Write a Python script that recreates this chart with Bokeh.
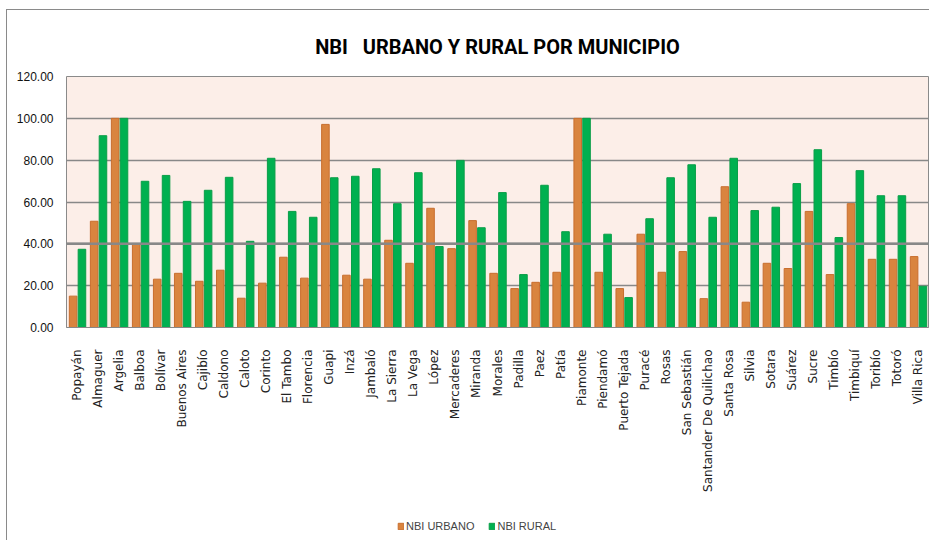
import math
from bokeh.plotting import figure
from bokeh.layouts import column
from bokeh.models import (ColumnDataSource, FactorRange, Range1d, Legend, LegendItem, Span,
                          NumeralTickFormatter, FixedTicker, Title)
from bokeh.transform import dodge
from bokeh.embed import file_html
from bokeh.resources import INLINE

municipios = ["Popayán", "Almaguer", "Argelia", "Balboa", "Bolívar", "Buenos Aires", "Cajibío",
              "Caldono", "Caloto", "Corinto", "El Tambo", "Florencia", "Guapi", "Inzá", "Jambaló",
              "La Sierra", "La Vega", "López", "Mercaderes", "Miranda", "Morales", "Padilla", "Paez",
              "Patía", "Piamonte", "Piendamó", "Puerto Tejada", "Puracé", "Rosas", "San Sebastián",
              "Santander De Quilichao", "Santa Rosa", "Silvia", "Sotara", "Suárez", "Sucre", "Timbío",
              "Timbiquí", "Toribío", "Totoró", "Villa Rica"]

nbi_urbano = [15.0, 50.8, 100.0, 40.1, 23.1, 25.9, 22.1, 27.4, 14.0, 21.2, 33.6, 23.6, 97.1, 25.0,
              23.1, 41.7, 30.7, 57.0, 37.7, 51.1, 25.9, 18.6, 21.6, 26.4, 100.0, 26.4, 18.6, 44.6,
              26.4, 36.3, 13.8, 67.3, 12.1, 30.7, 28.2, 55.5, 25.3, 59.2, 32.6, 32.6, 33.9]

nbi_rural = [37.4, 91.7, 100.0, 69.9, 72.7, 60.3, 65.6, 71.8, 41.2, 80.9, 55.5, 52.7, 71.6, 72.3,
             75.9, 59.2, 74.0, 38.7, 79.9, 47.7, 64.5, 25.3, 68.0, 45.8, 100.0, 44.6, 14.3, 52.0,
             71.6, 77.8, 52.7, 80.9, 55.9, 57.5, 68.8, 85.0, 43.0, 75.0, 63.0, 63.0, 19.7]

y_ticks = [0, 20, 40, 60, 80, 100, 120]

URB_FILL, URB_LINE = "#D9843F", "#C86E2E"
RUR_FILL, RUR_LINE = "#00B050", "#0A9E48"

src = ColumnDataSource(dict(m=municipios, u=nbi_urbano, r=nbi_rural))

# ---------------- main chart ----------------
p = figure(x_range=FactorRange(*municipios, range_padding=0), y_range=(0, 120),
           width=922, height=500, output_backend="svg", toolbar_location=None,
           min_border_left=59, min_border_right=1, min_border_top=66, min_border_bottom=183)

title = Title(text="NBI\u00a0\u00a0\u00a0URBANO Y RURAL POR MUNICIPIO", align="center",
              text_font="Roboto", text_font_size="20px", text_font_style="bold",
              text_color="#000000")
try:
    title.standoff = 36
except Exception:
    pass
p.add_layout(title, "above")

p.background_fill_color = "#FCEEE8"
p.border_fill_color = "white"
p.outline_line_color = "#8a8a8a"
p.outline_line_width = 1

p.vbar(x=dodge("m", -0.185, range=p.x_range), top="u", width=0.36, source=src,
       fill_color=URB_FILL, line_color=URB_LINE, line_width=1)
p.vbar(x=dodge("m", 0.235, range=p.x_range), top="r", width=0.36, source=src,
       fill_color=RUR_FILL, line_color=RUR_LINE, line_width=1)

p.add_layout(Span(location=40, dimension="width", line_color="#888888", line_width=2.5))

p.ygrid.grid_line_color = "#888888"
p.ygrid.grid_line_width = 1.5
p.xgrid.grid_line_color = None

p.yaxis.ticker = FixedTicker(ticks=y_ticks)
p.yaxis.formatter = NumeralTickFormatter(format="0.00")
p.yaxis.axis_line_color = None
p.yaxis.major_tick_line_color = None
p.yaxis.minor_tick_line_color = None
p.yaxis.major_label_text_font = "Liberation Sans"
p.yaxis.major_label_text_font_size = "12px"
p.yaxis.major_label_text_color = "#111111"
p.yaxis.major_label_standoff = 7

p.xaxis.axis_line_color = "#888888"
p.xaxis.major_tick_line_color = None
p.xaxis.minor_tick_line_color = None
p.xaxis.major_label_orientation = math.pi / 2
p.xaxis.major_label_text_font = "DejaVu Sans"
p.xaxis.major_label_text_font_size = "12px"
p.xaxis.major_label_text_color = "#222222"
p.xaxis.major_label_standoff = 16

# ---------------- legend strip ----------------
lf = figure(x_range=FactorRange(*municipios, range_padding=0), y_range=Range1d(500, 600),
            width=922, height=30, output_backend="svg", toolbar_location=None,
            min_border=0, min_border_left=0, min_border_right=0, min_border_top=0, min_border_bottom=0)
lf.axis.visible = False
lf.grid.visible = False
lf.outline_line_color = None
lf.background_fill_color = "white"

lu = lf.vbar(x="m", top="u", width=0.36, source=src, fill_color=URB_FILL, line_color=URB_LINE)
lr = lf.vbar(x="m", top="r", width=0.36, source=src, fill_color=RUR_FILL, line_color=RUR_LINE)

legend = Legend(items=[LegendItem(label="NBI URBANO", renderers=[lu]),
                       LegendItem(label="NBI RURAL", renderers=[lr])],
                orientation="horizontal", location=(331, 8),
                glyph_width=7, glyph_height=8, label_height=10, label_standoff=2,
                spacing=14, padding=2, margin=0,
                label_text_font="Liberation Sans", label_text_font_size="11px",
                border_line_color=None, background_fill_alpha=0)
lf.add_layout(legend, "center")

layout = column(p, lf, spacing=0)
layout.styles = {"margin-left": "6px", "margin-top": "9px",
                 "border-left": "1px solid #8a8a8a", "border-top": "1px solid #8a8a8a"}

open("out.html", "w").write(file_html(layout, INLINE))
